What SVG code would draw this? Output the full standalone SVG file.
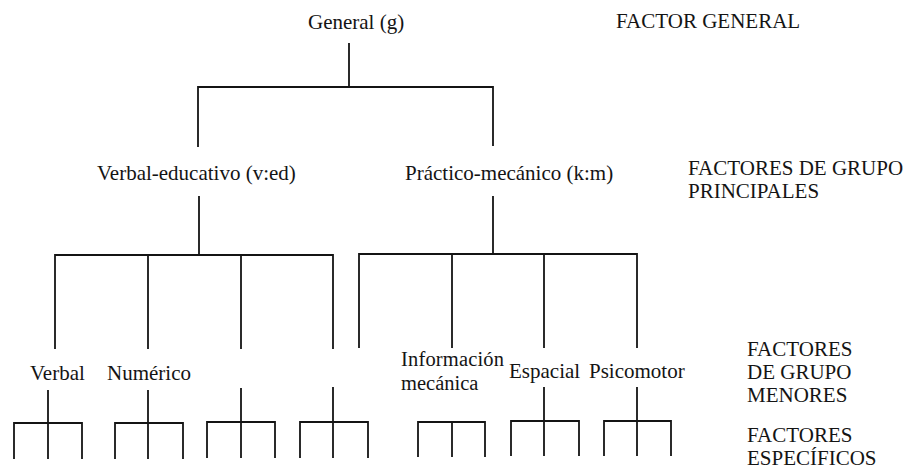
<svg xmlns="http://www.w3.org/2000/svg" width="913" height="472" viewBox="0 0 913 472">
<style>
.t{font-family:'Liberation Serif','DejaVu Serif',serif;font-size:21px;fill:#141414}
.c path{stroke:#141414;stroke-width:1.8;fill:none;stroke-linecap:square}
</style>
<rect width="913" height="472" fill="#fff"/>
<g class="t" font-family="Liberation Serif, DejaVu Serif, serif">
<g id="n-general"><text x="308" y="29">General (g)</text></g>
<g id="n-verbal-educativo"><text x="97" y="180">Verbal-educativo (v:ed)</text></g>
<g id="n-practico-mecanico"><text x="405" y="180">Práctico-mecánico (k:m)</text></g>
<g id="n-verbal"><text x="30" y="380">Verbal</text></g>
<g id="n-numerico"><text x="107" y="380">Numérico</text></g>
<g id="n-informacion" font-size="20.5" style="font-size:20.5px"><text x="401" y="366" textLength="103">Información</text><text x="401" y="389.5">mecánica</text></g>
<g id="n-espacial"><text x="509" y="378">Espacial</text></g>
<g id="n-psicomotor"><text x="589" y="378">Psicomotor</text></g>
<g id="labels">
<text x="616" y="28">FACTOR GENERAL</text>
<text x="688" y="175">FACTORES DE GRUPO</text>
<text x="688" y="198">PRINCIPALES</text>
<text x="747" y="356">FACTORES</text>
<text x="747" y="379">DE GRUPO</text>
<text x="747" y="402">MENORES</text>
<text x="747" y="442">FACTORES</text>
<text x="747" y="465">ESPECÍFICOS</text>
</g>
</g>
<g id="connectors" class="c">
<path d="M349 44V87M198 146V87H493V145"/>
<path d="M199 197V255M55 348V255H333V348M148 255V348M241 255V348"/>
<path d="M493 197V254M359 347V254H637V347M452 254V347M544 254V347"/>
<path d="M48 391V423M14 458V423H82V458M48 423V458"/>
<path d="M148 391V423M115 458V423H183V458M148 423V458"/>
<path d="M241 389V422M207 457V422H275V457M241 422V457"/>
<path d="M333 388V422M300 457V422H368V457M333 422V457"/>
<path d="M418 456V422H485V456M452 422V456"/>
<path d="M544 388V421M511 455V421H579V455M544 421V455"/>
<path d="M637 388V421M604 455V421H671V455M637 421V455"/>
</g>
</svg>
